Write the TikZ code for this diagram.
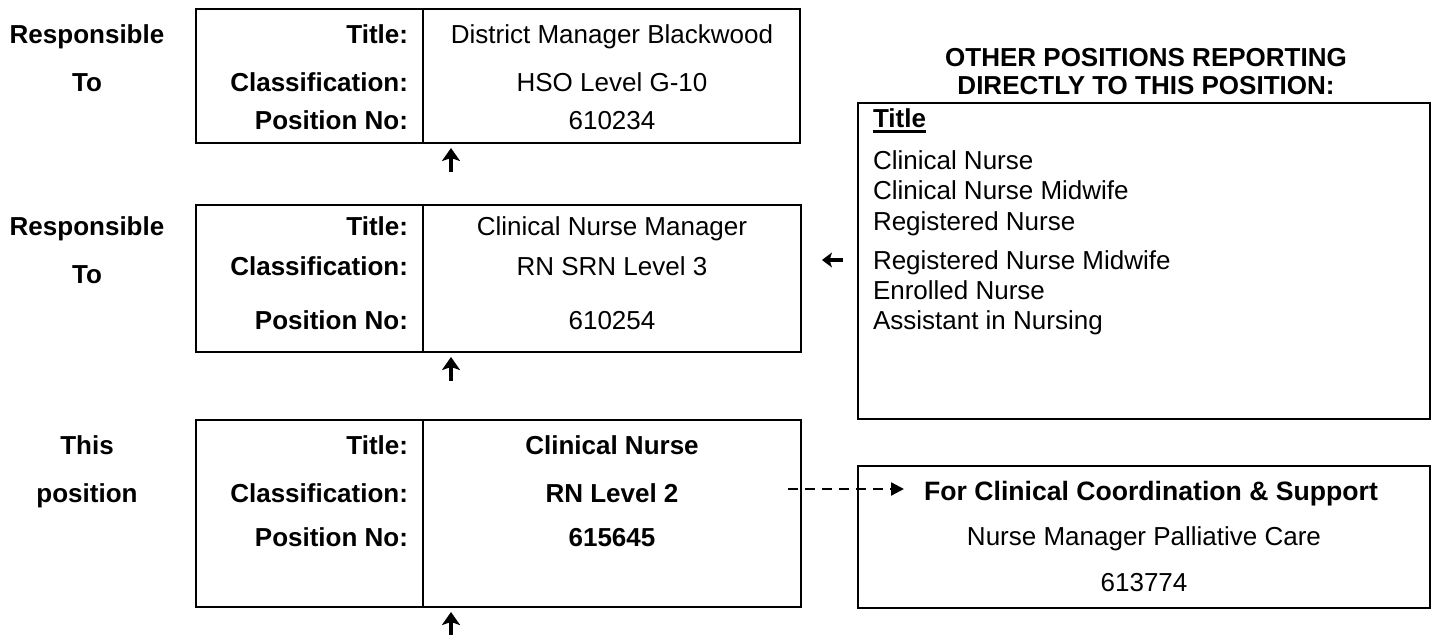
\documentclass[tikz,border=0pt]{standalone}
\usepackage{fontspec}
\setmainfont{Liberation Sans}
\usetikzlibrary{arrows.meta}
\begin{document}
\begin{tikzpicture}[x=1pt,y=-1pt,
  every node/.style={inner sep=0pt, outer sep=0pt, font=\fontsize{26}{30}\selectfont},
  box/.style={draw, line width=2.5pt, anchor=north west, inner sep=0pt},
  lbl/.style={anchor=base east, font=\fontsize{26}{30}\selectfont\bfseries},
  val/.style={anchor=base},
  valb/.style={anchor=base, font=\fontsize{26}{30}\selectfont\bfseries},
  side/.style={anchor=base, font=\fontsize{26}{30}\selectfont\bfseries},
  item/.style={anchor=base west},
  divider/.style={line width=2.5pt},
  uparrow/.style={line width=4.5pt, -{Stealth[length=13pt,width=18pt,inset=3pt]}},
  leftarrow/.style={line width=3.5pt, -{Stealth[length=10pt,width=15pt,inset=2.5pt]}},
  dashedarrow/.style={line width=2.3pt, dash pattern=on 10pt off 7pt, -{Triangle[length=13pt,width=13pt]}}
]
\fill[white] (0,0) rectangle (1437,637);
\useasboundingbox (0,0) rectangle (1437,637);

% ---------- boxes ----------
\node[box, minimum width=604pt, minimum height=134pt] (b1) at (196,9) {};
\node[box, minimum width=605pt, minimum height=147pt] (b2) at (196,205) {};
\node[box, minimum width=605pt, minimum height=187pt] (b3) at (196,420) {};
\node[box, minimum width=572pt, minimum height=316pt] (others) at (858,103) {};
\node[box, minimum width=572pt, minimum height=142pt] (coord) at (858,466) {};

\draw[divider] ([xshift=227pt]b1.north west) -- ([xshift=227pt]b1.south west);
\draw[divider] ([xshift=227pt]b2.north west) -- ([xshift=227pt]b2.south west);
\draw[divider] ([xshift=227pt]b3.north west) -- ([xshift=227pt]b3.south west);

% ---------- row 1 ----------
\node[side] (s1a) at (87,43) {Responsible};
\node[side] (s1b) at (87,91) {To};
\node[lbl] (l1a) at (408,43) {Title:};
\node[lbl] (l1b) at (408,91) {Classification:};
\node[lbl] (l1c) at (408,129) {Position No:};
\node[val] (v1a) at (612,43) {District Manager Blackwood};
\node[val] (v1b) at (612,91) {HSO Level G-10};
\node[val] (v1c) at (612,129) {610234};

% ---------- row 2 ----------
\node[side] (s2a) at (87,235) {Responsible};
\node[side] (s2b) at (87,283) {To};
\node[lbl] (l2a) at (408,235) {Title:};
\node[lbl] (l2b) at (408,275) {Classification:};
\node[lbl] (l2c) at (408,329) {Position No:};
\node[val] (v2a) at (612,235) {Clinical Nurse Manager};
\node[val] (v2b) at (612,275) {RN SRN Level 3};
\node[val] (v2c) at (612,329) {610254};

% ---------- row 3 ----------
\node[side] (s3a) at (87,454) {This};
\node[side] (s3b) at (87,502) {position};
\node[lbl] (l3a) at (408,454) {Title:};
\node[lbl] (l3b) at (408,502) {Classification:};
\node[lbl] (l3c) at (408,546) {Position No:};
\node[valb] (v3a) at (612,454) {Clinical Nurse};
\node[valb] (v3b) at (612,502) {RN Level 2};
\node[valb] (v3c) at (612,546) {615645};

% ---------- other positions ----------
\node[side] (h1) at (1146,66) {OTHER POSITIONS REPORTING};
\node[side] (h2) at (1146,94) {DIRECTLY TO THIS POSITION:};
\node[item, font=\fontsize{26}{30}\selectfont\bfseries] (ttl) at (873,127) {Title};
\draw[line width=2.4pt] ([yshift=-4.5pt]ttl.base west) -- ([yshift=-4.5pt]ttl.base east);
\node[item] (o1) at (873,169) {Clinical Nurse};
\node[item] (o2) at (873,199) {Clinical Nurse Midwife};
\node[item] (o3) at (873,230) {Registered Nurse};
\node[item] (o4) at (873,269) {Registered Nurse Midwife};
\node[item] (o5) at (873,299) {Enrolled Nurse};
\node[item] (o6) at (873,329) {Assistant in Nursing};

% ---------- clinical coordination ----------
\node[valb, font=\fontsize{26.6}{30}\selectfont\bfseries] (c1) at (1151,500) {For Clinical Coordination \& Support};
\node[val] (c2) at (1144,545) {Nurse Manager Palliative Care};
\node[val] (c3) at (1144,591) {613774};

% ---------- arrows ----------
\coordinate (u1s) at (451,172);
\coordinate (u1e) at (451,148);
\coordinate (u2s) at (451,381);
\coordinate (u2e) at (451,357);
\coordinate (u3s) at (451,635);
\coordinate (u3e) at (451,612);
\draw[uparrow] (u1s) -- (u1e);
\draw[uparrow] (u2s) -- (u2e);
\draw[uparrow] (u3s) -- (u3e);

\coordinate (ls) at (843,260);
\coordinate (le) at (822,260);
\draw[leftarrow] (ls) -- (le);

\coordinate (ds) at (788,489);
\coordinate (de) at (904,489);
\draw[dashedarrow] (ds) -- (de);
\end{tikzpicture}
\end{document}
